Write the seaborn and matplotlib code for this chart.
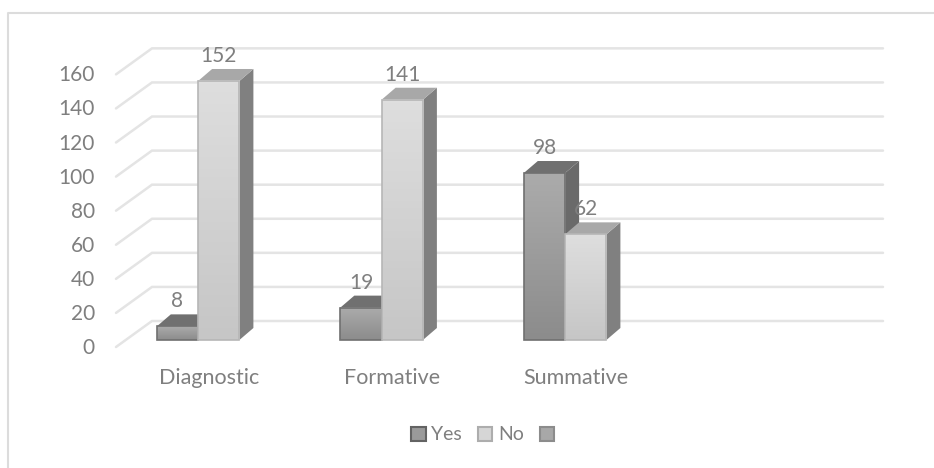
import matplotlib
matplotlib.use('Agg')
import matplotlib.pyplot as plt
import numpy as np
import pandas as pd
import seaborn as sb
from matplotlib.lines import Line2D
from matplotlib.patches import Patch, Polygon

categories = ['Diagnostic', 'Formative', 'Summative', ' ']
yes_values = [8, 19, 98, np.nan]
no_values = [152, 141, 62, np.nan]
blank_values = [np.nan, np.nan, np.nan, np.nan]
series_names = ['Yes', 'No', ' ']
y_ticks = [0, 20, 40, 60, 80, 100, 120, 140, 160]

W, H = 934, 468
PX_X = 183.5   # pixels per category
PX_Y = 1.704   # pixels per value unit
TXT = '#7f7f7f'

data = pd.DataFrame({
    'cat': categories * 3,
    'val': yes_values + no_values + blank_values,
    'series': [s for s in series_names for _ in categories],
})

sb.set_style('white')
plt.rcParams['font.family'] = ['Lato', 'DejaVu Sans']
fig = plt.figure(figsize=(W / 100, H / 100), dpi=100)
left, right = 127, 127 + 4 * PX_X
bottom, top = H - 340, H - 40
ax = fig.add_axes([left / W, bottom / H, (right - left) / W, (top - bottom) / H])

colors = {'Yes': '#9a9a9a', 'No': '#d2d2d2', ' ': '#a0a0a0'}
sb.barplot(data=data, x='cat', y='val', hue='series', hue_order=series_names,
           order=categories, palette=colors, width=0.675, gap=0, legend=False,
           ax=ax, zorder=3)
ax.set_xlim(-0.5, 3.5)
ax.set_ylim(0, (top - bottom) / PX_Y)
ax.set_xlabel('')
ax.set_ylabel('')
sb.despine(ax=ax, left=True, bottom=True)
ax.tick_params(length=0, labelbottom=False, labelleft=False)
ax.set_yticks(y_ticks)

# walls of the 3d box, in data units
for v in y_ticks:
    x0 = -0.5 - 11 / PX_X
    y0 = v - 7 / PX_Y
    x1 = -0.5 + 25 / PX_X
    y1 = v + 19 / PX_Y
    x2 = 3.5 + 22 / PX_X
    ax.plot([x0, x1, x2], [y0, y1, y1], color='#e4e4e4', lw=1.8, clip_on=False,
            zorder=1, solid_joinstyle='miter')
    ax.text(x0 - 21 / PX_X, y0 - 1 / PX_Y, str(v), ha='right', va='center', color=TXT,
            fontsize=15, clip_on=False)

for i, cat in enumerate(categories):
    ax.text(i - 10 / PX_X, -38 / PX_Y, cat, ha='center', va='center', color=TXT, fontsize=15.5,
            clip_on=False)

# side and top faces from each seaborn bar
dx = 14 / PX_X
dy = 12 / PX_Y
faces = {0: ('#707070', '#6a6a6a', '#707070', ['#ababab', '#8c8c8c']),
         1: ('#a8a8a8', '#808080', '#b6b6b6', ['#dedede', '#c6c6c6'])}
grad = np.linspace(0, 1, 64)[:, None]
z = 3
for s, cont in enumerate(ax.containers[:2]):
    for bar in cont:
        h = bar.get_height()
        if np.isnan(h):
            continue
        x, w = bar.get_x(), bar.get_width()
        top_c, side_c, edge_c, g = faces[s]
        ax.add_patch(Polygon([(x + w, 0), (x + w + dx, dy), (x + w + dx, h + dy), (x + w, h)],
                             fc=side_c, ec='none', zorder=z))
        ax.add_patch(Polygon([(x, h), (x + dx, h + dy), (x + w + dx, h + dy), (x + w, h)],
                             fc=top_c, ec='none', zorder=z))
        cmap = matplotlib.colors.LinearSegmentedColormap.from_list('g', g)
        ax.imshow(grad, extent=(x, x + w, 0, h), cmap=cmap, aspect='auto', zorder=z + 0.1)
        bar.set_zorder(z + 0.2)
        bar.set_facecolor('none')
        bar.set_edgecolor(edge_c)
        bar.set_linewidth(1.2)
        bar.set_clip_on(False)
        z += 0.5
        ax.annotate(f'{h:.0f}', (x + w / 2, h), xytext=(0, 25 * 0.72), textcoords='offset points',
                    ha='center', va='center', color=TXT, fontsize=15, zorder=20,
                    annotation_clip=False)
ax.set_xlim(-0.5, 3.5)
ax.set_ylim(0, (top - bottom) / PX_Y)

handles = [Patch(fc='#9a9a9a', ec='#636363', lw=1.5),
           Patch(fc='#d6d6d6', ec='#adadad', lw=1.5),
           Patch(fc='#a8a8a8', ec='#8c8c8c', lw=1.5)]
fig.legend(handles, ['Yes', 'No', ' '], loc='center', bbox_to_anchor=(488 / W, 1 - 435 / H),
           ncol=3, frameon=False, fontsize=14, labelcolor=TXT, handlelength=0.75,
           handleheight=0.75, handletextpad=0.3, columnspacing=0.8)

# chart frame: only left and top edges show
fig.add_artist(Line2D([8 / W, 8 / W, 1], [0, 1 - 13 / H, 1 - 13 / H],
                      transform=fig.transFigure, color='#dcdcdc', lw=1.5))
fig.savefig('out.png', dpi=100)
